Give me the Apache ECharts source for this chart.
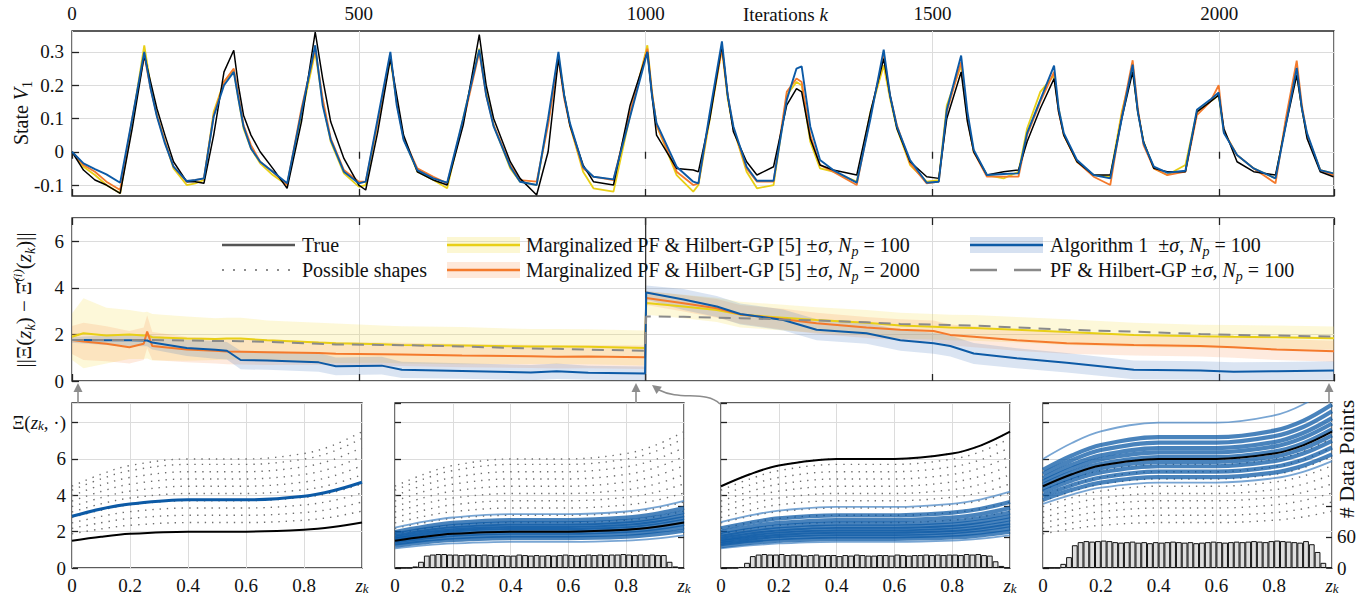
<!DOCTYPE html>
<html><head><meta charset="utf-8">
<script src="https://cdn.jsdelivr.net/npm/echarts@6.0.0/dist/echarts.min.js"></script>
<style>html,body{margin:0;padding:0;background:#fff;}#c{width:1369px;height:595px;}</style>
</head><body><div id="c"></div>
<script>
// ---------------- DATA ----------------
// Top panel: state V1 over iterations k
const iterK = [0,20,40,60,84,105,126,137,148,162,
177,200,215,230,247,265,282,290,299,312,
328,350,375,400,424,437,451,474,500,512,
533,555,566,578,602,630,654,682,710,722,
735,764,781,810,830,848,858,868,891,909,
944,973,1003,1011,1019,1054,1083,1092,1112,1133,
1143,1153,1176,1194,1223,1246,1263,1272,1287,1304,
1327,1368,1392,1415,1426,1438,1461,1490,1511,1525,
1550,1561,1572,1595,1624,1650,1665,1688,1712,1720,
1729,1752,1781,1810,1830,1849,1858,1868,1886,1909,
1941,1961,1984,1999,2008,2031,2060,2098,2116,2135,
2144,2153,2176,2199];
const stateBlue = [0,-0.035,-0.052,-0.068,-0.093,0.10,0.30,0.19,0.106,0.025,
-0.045,-0.088,-0.085,-0.08,0.106,0.20,0.24,0.16,0.076,0.01,
-0.03,-0.06,-0.095,0.12,0.32,0.14,0.036,-0.06,-0.095,-0.09,
0.10,0.30,0.14,0.036,-0.055,-0.08,-0.093,0.101,0.307,0.17,
0.076,-0.045,-0.09,-0.1,0.10,0.30,0.17,0.086,-0.045,-0.075,
-0.083,0.106,0.30,0.17,0.086,-0.045,-0.09,-0.095,0.12,0.332,
0.17,0.076,-0.045,-0.087,-0.087,0.156,0.25,0.257,0.076,-0.025,
-0.055,-0.093,0.10,0.307,0.17,0.076,-0.025,-0.093,-0.09,0.126,
0.289,0.12,0.0055,-0.07,-0.067,-0.065,0.056,0.156,0.259,0.13,
0.056,-0.025,-0.07,-0.08,0.10,0.262,0.12,0.026,-0.045,-0.063,
-0.057,0.126,0.156,0.178,0.056,-0.01,-0.05,-0.08,0.08,0.252,
0.13,0.056,-0.055,-0.065];
const stateTrue = [0,-0.055,-0.085,-0.1,-0.125,0.07,0.29,0.21,0.13,0.05,
-0.03,-0.09,-0.09,-0.095,0.05,0.24,0.305,0.2,0.11,0.05,
0.0,-0.05,-0.11,0.09,0.36,0.22,0.09,-0.02,-0.1,-0.115,
0.06,0.28,0.17,0.05,-0.06,-0.085,-0.1,0.08,0.352,0.2,
0.1,-0.03,-0.08,-0.13,0.0,0.28,0.17,0.08,-0.04,-0.09,
-0.1,0.14,0.30,0.17,0.05,-0.05,-0.055,-0.06,0.10,0.32,
0.17,0.06,-0.03,-0.07,-0.045,0.14,0.19,0.18,0.04,-0.04,
-0.055,-0.07,0.12,0.28,0.17,0.07,-0.03,-0.075,-0.08,0.10,
0.24,0.09,0.0,-0.07,-0.06,-0.055,0.03,0.13,0.22,0.12,
0.05,-0.03,-0.07,-0.07,0.10,0.24,0.12,0.03,-0.05,-0.06,
-0.06,0.12,0.15,0.17,0.07,-0.03,-0.06,-0.07,0.08,0.23,
0.13,0.04,-0.06,-0.075];
const stateYellow = [0,-0.045,-0.07,-0.1,-0.125,0.09,0.32,0.2,0.11,0.03,
-0.05,-0.1,-0.095,-0.085,0.12,0.21,0.245,0.16,0.07,0.01,
-0.035,-0.07,-0.1,0.11,0.30,0.15,0.03,-0.065,-0.105,-0.1,
0.09,0.28,0.15,0.04,-0.06,-0.085,-0.11,0.1,0.31,0.18,
0.08,-0.05,-0.09,-0.1,0.09,0.29,0.17,0.08,-0.06,-0.11,
-0.12,0.11,0.32,0.18,0.08,-0.07,-0.12,-0.1,0.1,0.31,
0.16,0.07,-0.06,-0.11,-0.1,0.17,0.21,0.2,0.03,-0.05,
-0.06,-0.09,0.12,0.26,0.16,0.07,-0.04,-0.09,-0.085,0.14,
0.26,0.1,0.0,-0.07,-0.08,-0.06,0.07,0.18,0.23,0.13,
0.05,-0.03,-0.07,-0.075,0.12,0.25,0.12,0.03,-0.05,-0.07,
-0.04,0.12,0.15,0.17,0.06,-0.01,-0.05,-0.08,0.09,0.24,
0.13,0.05,-0.055,-0.065];
const stateOrange = [0,-0.04,-0.06,-0.09,-0.115,0.10,0.29,0.19,0.11,0.03,
-0.045,-0.09,-0.085,-0.08,0.11,0.21,0.25,0.17,0.08,0.02,
-0.03,-0.06,-0.1,0.13,0.31,0.16,0.04,-0.055,-0.09,-0.09,
0.09,0.29,0.15,0.04,-0.05,-0.075,-0.095,0.09,0.30,0.17,
0.08,-0.04,-0.085,-0.09,0.08,0.28,0.16,0.08,-0.05,-0.075,
-0.085,0.12,0.31,0.18,0.08,-0.06,-0.1,-0.095,0.11,0.31,
0.17,0.07,-0.05,-0.09,-0.09,0.18,0.22,0.21,0.05,-0.04,
-0.06,-0.1,0.11,0.29,0.17,0.08,-0.035,-0.095,-0.09,0.12,
0.27,0.1,0.0,-0.075,-0.075,-0.075,0.05,0.15,0.24,0.12,
0.05,-0.03,-0.075,-0.1,0.11,0.275,0.13,0.02,-0.05,-0.07,
-0.06,0.11,0.15,0.2,0.06,-0.01,-0.05,-0.095,0.1,0.274,
0.14,0.05,-0.055,-0.07];
const iterTicks = [0,500,1000,1500,2000];
const stateTicks = [-0.1,0,0.1,0.2,0.3];

// Middle panel: error norm
const errK = [0,20,60,100,125,131,140,200,250,270,294,340,430,460,540,575,680,800,845,900,999,1001,1066,1124,1165,1240,1298,1385,1444,1502,1531,1572,1647,1734,1851,1967,2025,2100,2200];
const errBlue = [1.76,1.76,1.75,1.75,1.74,1.74,1.65,1.42,1.34,1.3,0.9,0.88,0.8,0.63,0.66,0.48,0.43,0.36,0.42,0.35,0.32,3.8,3.5,3.2,2.88,2.62,2.2,2.05,1.75,1.62,1.5,1.18,0.98,0.78,0.48,0.45,0.4,0.42,0.45];
const errBlueSigma = [0.12,0.15,0.2,0.25,0.25,0.25,0.3,0.35,0.38,0.38,0.4,0.4,0.4,0.38,0.38,0.35,0.33,0.33,0.33,0.3,0.3,0.3,0.45,0.45,0.45,0.45,0.45,0.45,0.45,0.45,0.45,0.45,0.43,0.42,0.4,0.4,0.4,0.4,0.4];
const errYellow = [1.9,2.05,1.95,2.0,1.95,1.97,1.88,1.82,1.8,1.82,1.82,1.75,1.65,1.62,1.58,1.55,1.52,1.48,1.48,1.47,1.42,3.35,3.2,3.05,2.85,2.72,2.62,2.5,2.38,2.33,2.3,2.28,2.2,2.1,1.98,1.92,1.9,1.88,1.84];
const errYellowSigma = [1.0,1.5,1.2,1.05,1.0,1.0,1.0,0.95,0.9,0.9,0.9,0.85,0.85,0.85,0.8,0.8,0.8,0.75,0.75,0.75,0.75,0.5,0.5,0.52,0.55,0.55,0.55,0.55,0.55,0.55,0.55,0.55,0.55,0.55,0.52,0.5,0.5,0.5,0.5];
const errOrange = [1.76,1.7,1.6,1.45,1.6,2.12,1.5,1.35,1.3,1.27,1.26,1.24,1.2,1.17,1.15,1.14,1.09,1.06,1.04,1.05,1.02,3.56,3.34,3.12,2.86,2.65,2.48,2.3,2.2,2.15,1.98,1.9,1.75,1.62,1.55,1.5,1.45,1.35,1.28];
const errOrangeSigma = [0.6,0.8,0.75,0.7,0.7,0.7,0.6,0.55,0.55,0.55,0.55,0.55,0.5,0.5,0.5,0.5,0.5,0.5,0.5,0.5,0.5,0.3,0.35,0.4,0.4,0.45,0.45,0.45,0.45,0.45,0.45,0.45,0.45,0.45,0.45,0.45,0.45,0.45,0.45];
const errGray = [1.76,1.76,1.76,1.76,1.76,1.76,1.76,1.74,1.72,1.72,1.71,1.68,1.6,1.57,1.55,1.54,1.48,1.4,1.38,1.35,1.3,2.77,2.76,2.72,2.7,2.64,2.6,2.52,2.45,2.42,2.41,2.38,2.3,2.2,2.12,2.02,1.98,1.95,1.91];
const errTicks = [0,2,4,6];
const changeK = [1000, 1000];     // vertical marker where the true shape changes
const changeY = [0, 7];

// Bottom panels: shapes over z_k
const zGrid = [0,0.1,0.2,0.4,0.6,0.8,0.9,1];
const zTicks = [0,0.2,0.4,0.6,0.8];
const shapeTicks = [0,2,4,6];
const trueShapeBefore = [1.5,1.72,1.88,2.0,2.0,2.1,2.25,2.5];
const trueShapeAfter = [4.5,5.16,5.64,6.0,6.0,6.3,6.75,7.5];
const possibleShapes = [
 [1.88,2.15,2.35,2.5,2.5,2.63,2.81,3.13],
 [2.18,2.49,2.73,2.9,2.9,3.05,3.26,3.63],
 [2.48,2.84,3.1,3.3,3.3,3.47,3.71,4.13],
 [2.78,3.18,3.48,3.7,3.7,3.89,4.16,4.63],
 [3.08,3.53,3.85,4.1,4.1,4.31,4.61,5.13],
 [3.38,3.87,4.23,4.5,4.5,4.73,5.06,5.63],
 [3.68,4.21,4.61,4.9,4.9,5.15,5.51,6.13],
 [3.98,4.56,4.98,5.3,5.3,5.57,5.96,6.63],
 [4.28,4.9,5.36,5.7,5.7,5.99,6.41,7.13],
 [4.5,5.16,5.64,6.0,6.0,6.3,6.75,7.5]
];
const estimateInit = [2.85,3.25,3.52,3.75,3.75,3.95,4.25,4.72];
const particlesP2 = [
 [1.08,1.24,1.35,1.44,1.44,1.51,1.62,1.8],
 [1.23,1.41,1.54,1.64,1.64,1.72,1.85,2.05],
 [1.35,1.55,1.69,1.8,1.8,1.89,2.03,2.25],
 [1.46,1.67,1.82,1.94,1.94,2.04,2.18,2.43],
 [1.56,1.79,1.96,2.08,2.08,2.18,2.34,2.6],
 [1.65,1.89,2.07,2.2,2.2,2.31,2.48,2.75],
 [1.74,2.0,2.18,2.32,2.32,2.44,2.61,2.9],
 [1.85,2.12,2.31,2.46,2.46,2.58,2.77,3.08],
 [1.98,2.27,2.48,2.64,2.64,2.77,2.97,3.3],
 [2.22,2.55,2.78,2.96,2.96,3.11,3.33,3.7]
];
const particlesP3 = [
 [1.08,1.24,1.35,1.44,1.44,1.51,1.62,1.8],
 [1.2,1.38,1.5,1.6,1.6,1.68,1.8,2.0],
 [1.31,1.5,1.64,1.74,1.74,1.83,1.96,2.18],
 [1.41,1.62,1.77,1.88,1.88,1.97,2.12,2.35],
 [1.5,1.72,1.88,2.0,2.0,2.1,2.25,2.5],
 [1.61,1.84,2.01,2.14,2.14,2.25,2.41,2.68],
 [1.71,1.96,2.14,2.28,2.28,2.39,2.57,2.85],
 [1.83,2.1,2.29,2.44,2.44,2.56,2.75,3.05],
 [1.98,2.27,2.48,2.64,2.64,2.77,2.97,3.3],
 [2.18,2.49,2.73,2.9,2.9,3.05,3.26,3.63],
 [2.52,2.89,3.16,3.36,3.36,3.53,3.78,4.2]
];
const particlesP4 = [
 [3.53,4.04,4.42,4.7,4.7,4.94,5.29,5.88],
 [3.75,4.3,4.7,5.0,5.0,5.25,5.63,6.25],
 [3.98,4.56,4.98,5.3,5.3,5.57,5.96,6.63],
 [4.2,4.82,5.26,5.6,5.6,5.88,6.3,7.0],
 [4.38,5.02,5.49,5.84,5.84,6.13,6.57,7.3],
 [4.58,5.25,5.73,6.1,6.1,6.41,6.86,7.63],
 [4.77,5.47,5.98,6.36,6.36,6.68,7.16,7.95],
 [4.95,5.68,6.2,6.6,6.6,6.93,7.43,8.25],
 [5.18,5.93,6.49,6.9,6.9,7.25,7.76,8.63],
 [5.4,6.19,6.77,7.2,7.2,7.56,8.1,9.0],
 [6.0,6.88,7.52,8.0,8.0,8.4,9.0,10.0]
];
// histograms of data points (50 bins of width 0.02 over z_k)
const histP2 = [0,0,0,3,12,24,26,27,27,26,26,25,26,26,25,26,25,24,25,24,24,26,25,24,25,24,25,24,25,26,25,24,25,26,25,26,25,26,26,27,26,25,26,25,26,25,25,12,3,0];
const histP3 = [0,0,0,2,10,23,26,27,26,26,27,25,26,26,24,25,26,24,25,25,23,25,24,26,25,24,24,25,25,24,26,25,24,25,25,26,25,26,25,26,26,25,27,26,27,25,24,13,4,0];
const histP4 = [0,0,0,8,21,44,50,52,51,52,53,52,50,49,50,51,49,50,48,50,49,50,51,50,49,50,48,49,50,51,50,49,50,51,50,51,52,51,50,52,53,52,51,50,49,52,46,31,10,0];
const countTicks = [0,60];

// ---------------- CHART ----------------
const FONT = 'Liberation Serif';
const C = {blue:'#0c5aa6', yellow:'#e8cf16', orange:'#f47a2c', black:'#000', gray:'#8a8a8a', grid:'#dcdcdc', axis:'#222'};
const FS = 19;
const RICH = {
  it:{fontStyle:'italic', fontFamily:FONT, fontSize:FS},
  sub:{fontStyle:'italic', fontFamily:FONT, fontSize:13, verticalAlign:'bottom', lineHeight:13},
  n:{fontFamily:FONT, fontSize:FS}
};
const chart = echarts.init(document.getElementById('c'), null, {renderer:'svg', width:1369, height:595});

const gridBase = {show:true, borderColor:'#262626', borderWidth:1.3, backgroundColor:'#fff', containLabel:false, outerBoundsMode:'none'};
const grids = [
  Object.assign({left:72, top:31, width:1262, height:165}, gridBase),
  Object.assign({left:72, top:218, width:1262, height:163}, gridBase),
  Object.assign({left:72, top:403, width:290, height:165}, gridBase),
  Object.assign({left:395, top:403, width:289, height:165}, gridBase),
  Object.assign({left:721, top:403, width:289, height:165}, gridBase),
  Object.assign({left:1043, top:403, width:289, height:165}, gridBase)
];
const tickStyle = {show:true, inside:true, length:7, lineStyle:{color:C.axis, width:1.3}};
const split = {show:true, lineStyle:{color:C.grid, width:1}};
const lbl = {fontSize:FS, fontFamily:FONT, color:'#111'};

function iterAxis(g, pos, labels, splitOn) {
  return {gridIndex:g, type:'value', position:pos, min:0, max:2200, interval:500,
    axisLine:{show:false}, axisTick:tickStyle,
    axisLabel: labels ? Object.assign({show:true, margin:8, showMaxLabel:false,
      formatter: v => iterTicks.includes(v) ? String(v) : ''}, lbl) : {show:false},
    splitLine: splitOn ? split : {show:false}};
}
function zAxis(g) {
  return {gridIndex:g, type:'value', position:'bottom', min:0, max:1, interval:0.2,
    axisLine:{show:false}, axisTick:{show:false},
    axisLabel: Object.assign({show:true, margin:8, showMaxLabel:true, showMinLabel:true, hideOverlap:false,
      rich: RICH,
      formatter: v => Math.abs(v-1) < 1e-9 ? '{it|z}{sub|k}' : (zTicks.some(t => Math.abs(t-v)<1e-9) ? String(+v.toFixed(1)) : '')}, lbl),
    splitLine: split};
}
function catAxis(g) {
  return {gridIndex:g, type:'category', position:'top', data: histP4.map((_, i) => String(i)),
    boundaryGap:true, show:false};
}
const xAxes = [
  iterAxis(0,'top',true,true), iterAxis(0,'bottom',false,false),
  iterAxis(1,'bottom',false,true), iterAxis(1,'top',false,false),
  zAxis(2), zAxis(3), zAxis(4), zAxis(5),
  catAxis(3), catAxis(4), catAxis(5)
];
function shapeY(g, labels) {
  return {gridIndex:g, type:'value', min:0, max:9.08, interval:2,
    axisLine:{show:false}, axisTick:{show:true, inside:true, length:6, lineStyle:{color:C.axis, width:1.3}},
    axisLabel: labels ? Object.assign({show:true, margin:6, showMaxLabel:false, rich: RICH,
      formatter: v => v === 8 ? '{n|Ξ(}{it|z}{sub|k}{n|, ·)}' : (shapeTicks.includes(v) ? String(v) : '')}, lbl) : {show:false},
    splitLine: split};
}
function countY(g, labels) {
  return {gridIndex:g, type:'value', position:'right', min:0, max:319, interval:60,
    axisLine:{show:false},
    axisTick:{show:true, inside:true, length:6, customValues:[60,120], lineStyle:{color:C.axis, width:1.3}},
    axisLabel: labels ? Object.assign({show:true, margin:5, customValues: countTicks,
      formatter: v => String(v)}, lbl) : {show:false},
    splitLine:{show:false}};
}
const yAxes = [
  {gridIndex:0, type:'value', min:-0.133, max:0.363,
    axisLine:{show:false},
    axisTick:Object.assign({customValues: stateTicks}, tickStyle),
    axisLabel:Object.assign({show:true, margin:8, customValues: stateTicks,
      formatter: v => String(+v.toFixed(1))}, lbl),
    splitLine: split},
  {gridIndex:1, type:'value', min:0, max:7, interval:2,
    axisLine:{show:false}, axisTick:tickStyle,
    axisLabel:Object.assign({show:true, margin:8, showMaxLabel:false,
      formatter: v => errTicks.includes(v) ? String(v) : ''}, lbl),
    splitLine: split},
  shapeY(2,true), shapeY(3,false), shapeY(4,false), shapeY(5,false),
  countY(3,false), countY(4,false), countY(5,true)
];

const series = [];
function pairs(xs, ys) { return xs.map((x, i) => [x, ys[i]]); }
// top panel
[[stateYellow, C.yellow, 1.8], [stateOrange, C.orange, 1.8], [stateTrue, C.black, 1.5], [stateBlue, C.blue, 1.9]].forEach(([d, col, w]) => {
  series.push({type:'line', xAxisIndex:0, yAxisIndex:0, data:pairs(iterK, d), symbol:'none', silent:true,
    lineStyle:{color:col, width:w}, clip:true, z:3});
});
// middle bands
function band(mean, sigma, color) {
  return {type:'custom', xAxisIndex:2, yAxisIndex:1, silent:true, clip:true, z:1, data:[[0,0]],
    renderItem: (params, api) => {
      const up = errK.map((k, i) => api.coord([k, mean[i] + sigma[i]]));
      const lo = errK.map((k, i) => api.coord([k, Math.max(0, mean[i] - sigma[i])])).reverse();
      return {type:'polygon', shape:{points: up.concat(lo)}, style:{fill: color}};
    }};
}
series.push(band(errYellow, errYellowSigma, 'rgba(245,222,80,0.22)'));
series.push(band(errOrange, errOrangeSigma, 'rgba(248,140,70,0.18)'));
series.push(band(errBlue, errBlueSigma, 'rgba(70,120,190,0.2)'));
series.push({type:'line', xAxisIndex:2, yAxisIndex:1, data:pairs(changeK, changeY), symbol:'none', silent:true,
  lineStyle:{color:'#333', width:1.3}, z:2});
[[errYellow, C.yellow, 'solid'], [errOrange, C.orange, 'solid'], [errBlue, C.blue, 'solid'], [errGray, C.gray, [12, 8]]].forEach(([d, col, t]) => {
  series.push({type:'line', xAxisIndex:2, yAxisIndex:1, data:pairs(errK, d), symbol:'none', silent:true,
    lineStyle:{color:col, width:2, type:t}, clip:true, z:3});
});
// bottom panels
function shapeLine(xi, yi, vals, style, z) {
  return {type:'line', xAxisIndex:xi, yAxisIndex:yi, data:pairs(zGrid, vals), symbol:'none', smooth:0.35,
    silent:true, clip:true, lineStyle:style, z:z || 2};
}
const dotted = {color:'#6e6e6e', width:1.4, type:[1.4, 6]};
for (let p = 0; p < 4; p++) {
  possibleShapes.forEach(s => series.push(shapeLine(4 + p, 2 + p, s, dotted, 2)));
}
series.push(shapeLine(4, 2, trueShapeBefore, {color:C.black, width:2}, 4));
series.push(shapeLine(4, 2, estimateInit, {color:C.blue, width:3}, 4));
[[particlesP2, 5, 3, trueShapeBefore], [particlesP3, 6, 4, trueShapeAfter], [particlesP4, 7, 5, trueShapeAfter]].forEach(([parts, xi, yi, tr]) => {
  parts.forEach((s, i) => {
    const edge = (i === 0 || i === parts.length - 1);
    series.push(shapeLine(xi, yi, s, {color: edge ? '#3f7fc0' : C.blue, width: edge ? 1.8 : 4.2, opacity: edge ? 0.7 : 0.75}, 3));
  });
  series.push(shapeLine(xi, yi, tr, {color:C.black, width:2}, 4));
});
[[histP2, 8, 6], [histP3, 9, 7], [histP4, 10, 8]].forEach(([h, xi, yi]) => {
  series.push({type:'bar', xAxisIndex:xi, yAxisIndex:yi, data:h, barWidth:'100%', barCategoryGap:'0%', silent:true,
    itemStyle:{color:'#dedede', borderColor:'#111', borderWidth:1}, z:5});
});

// graphics: legend, labels, arrows
const TXT = {fontFamily:FONT, fontSize:20, fill:'#111', verticalAlign:'middle', align:'left', lineHeight:26,
  rich:{it:{fontStyle:'italic', fontFamily:FONT, fontSize:20}, sub:{fontStyle:'italic', fontFamily:FONT, fontSize:14, verticalAlign:'bottom', lineHeight:14}}};
function gtext(x, y, text, extra) {
  return {type:'text', x:x, y:y, z:100, silent:true, style:Object.assign({}, TXT, {text:text}, extra || {})};
}
const arrowCol = '#8c8c8c';
function upArrow(x) {
  return [
    {type:'line', z:100, shape:{x1:x, y1:403, x2:x, y2:391}, style:{stroke:arrowCol, lineWidth:1.6}},
    {type:'polygon', z:100, shape:{points:[[x-4.5,392],[x+4.5,392],[x,383]]}, style:{fill:arrowCol}}
  ];
}
const graphics = [
  // legend column 1
  {type:'line', z:100, shape:{x1:222, y1:245, x2:295, y2:245}, style:{stroke:'#555', lineWidth:2.6}},
  {type:'line', z:100, shape:{x1:222, y1:270, x2:295, y2:270}, style:{stroke:'#8c8c8c', lineWidth:2, lineDash:[2, 9]}},
  gtext(302, 245, 'True'),
  gtext(302, 270, 'Possible shapes'),
  // legend column 2
  {type:'rect', z:99, shape:{x:447, y:237, width:73, height:16}, style:{fill:'rgba(245,222,80,0.25)'}},
  {type:'line', z:100, shape:{x1:447, y1:245, x2:520, y2:245}, style:{stroke:C.yellow, lineWidth:2.6}},
  {type:'rect', z:99, shape:{x:447, y:262, width:73, height:16}, style:{fill:'rgba(248,140,70,0.2)'}},
  {type:'line', z:100, shape:{x1:447, y1:270, x2:520, y2:270}, style:{stroke:C.orange, lineWidth:2.6}},
  gtext(526, 245, 'Marginalized PF & Hilbert-GP [5] ±{it|σ}, {it|N}{sub|p} = 100'),
  gtext(526, 270, 'Marginalized PF & Hilbert-GP [5] ±{it|σ}, {it|N}{sub|p} = 2000'),
  // legend column 3
  {type:'rect', z:99, shape:{x:970, y:237, width:73, height:16}, style:{fill:'rgba(70,120,190,0.22)'}},
  {type:'line', z:100, shape:{x1:970, y1:245, x2:1043, y2:245}, style:{stroke:C.blue, lineWidth:2.6}},
  {type:'line', z:100, shape:{x1:970, y1:270, x2:1043, y2:270}, style:{stroke:C.gray, lineWidth:2.6, lineDash:[27, 17]}},
  gtext(1050, 245, 'Algorithm 1  ±{it|σ}, {it|N}{sub|p} = 100'),
  gtext(1050, 270, 'PF & Hilbert-GP ±{it|σ}, {it|N}{sub|p} = 100'),
  // axis titles
  gtext(743, 14, 'Iterations {it|k}', {fontSize:19, rich:{it:{fontStyle:'italic', fontFamily:FONT, fontSize:19}}}),
  {type:'text', x:21, y:113, rotation:Math.PI/2, z:100, silent:true,
    style:Object.assign({}, TXT, {text:'State {it|V}{sub|1}', align:'center', fontSize:20,
      rich:{it:{fontStyle:'italic', fontFamily:FONT, fontSize:20}, sub:{fontFamily:FONT, fontSize:14, verticalAlign:'bottom', lineHeight:14}}})},
  {type:'text', x:24, y:300, rotation:Math.PI/2, z:100, silent:true,
    style:Object.assign({}, TXT, {text:'||Ξ({it|z}{sub|k}) − Ξ̂{sup|(i)}({it|z}{sub|k})||', align:'center', fontSize:21,
      rich:{it:{fontStyle:'italic', fontFamily:FONT, fontSize:21}, sub:{fontStyle:'italic', fontFamily:FONT, fontSize:14, verticalAlign:'bottom', lineHeight:14},
        sup:{fontStyle:'italic', fontFamily:FONT, fontSize:13, verticalAlign:'top', lineHeight:13}}})},
  {type:'text', x:1346, y:459, rotation:Math.PI/2, z:100, silent:true,
    style:Object.assign({}, TXT, {text:'# Data Points', align:'center', fontSize:22})},
  // connector arrows
  ...upArrow(78), ...upArrow(636), ...upArrow(1329),
  {type:'bezierCurve', z:100, shape:{x1:720, y1:404, cpx1:706, cpy1:390, cpx2:680, cpy2:401, x2:659, y2:390},
    style:{stroke:arrowCol, lineWidth:1.6, fill:null}},
  {type:'polygon', z:100, shape:{points:[[652,385],[661.9,386.8],[656.5,394.0]]}, style:{fill:arrowCol}}
];

chart.setOption({
  animation:false,
  backgroundColor:'#fff',
  textStyle:{fontFamily:FONT},
  grid:grids, xAxis:xAxes, yAxis:yAxes, series:series, graphic:graphics
});
</script>
</body></html>
